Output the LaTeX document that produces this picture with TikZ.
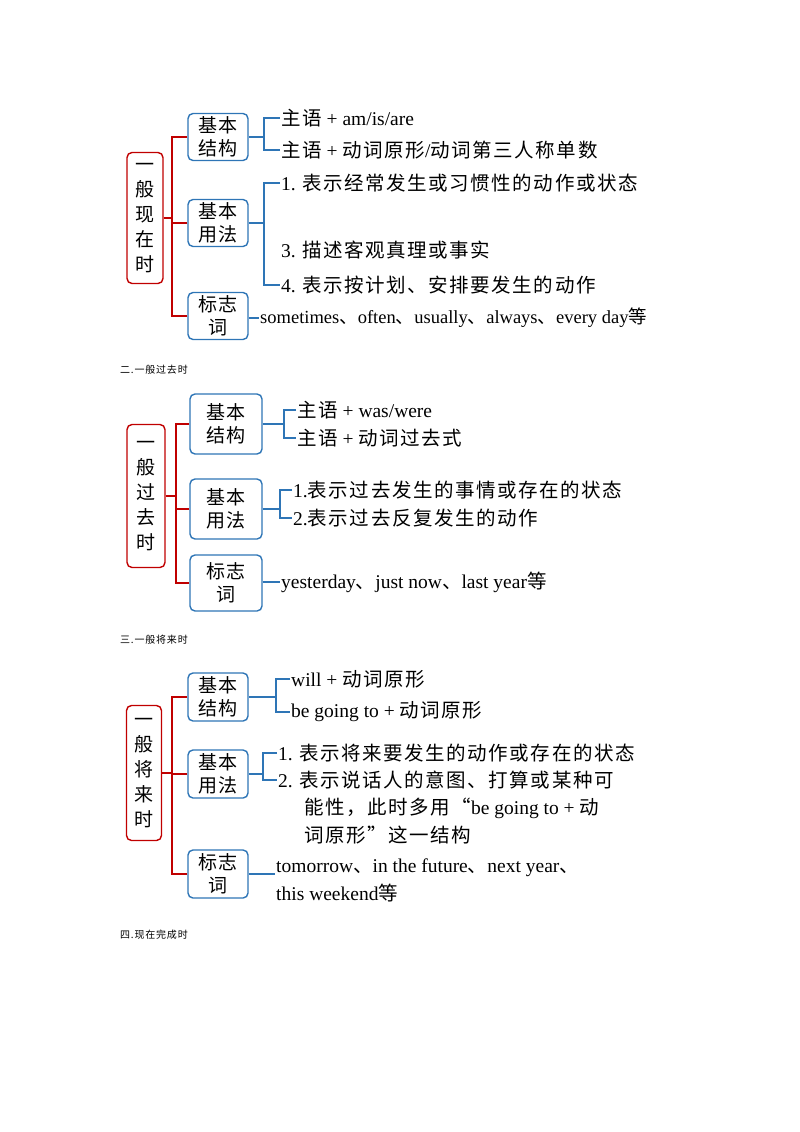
\documentclass[tikz,border=0pt]{standalone}
\usepackage{fontspec}
\setmainfont{Liberation Serif}
\newfontfamily\cjk{Noto Sans CJK SC}[LetterSpace=8]
\newcommand\zh[1]{{\cjk #1}}
\definecolor{rootred}{RGB}{192,0,0}
\definecolor{boxblue}{RGB}{46,117,182}
\begin{document}
\begin{tikzpicture}[x=1pt,y=-1pt,
    root/.style = {draw=rootred, line width=1.4pt, rounded corners=5pt, align=center, inner sep=2pt, font=\fontsize{19}{25}\selectfont\cjk},
     sub/.style = {draw=boxblue, line width=1.4pt, rounded corners=5pt, align=center, inner sep=3pt, font=\fontsize{19}{23}\selectfont\cjk},
    item/.style = {anchor=west, inner sep=1pt, font=\fontsize{19.5}{22}\selectfont, align=left},
      rd/.style = {draw=rootred, line width=1.2pt},
      br/.style = {draw=boxblue, line width=1.2pt},
     sec/.style = {anchor=west, inner sep=0pt, font=\fontsize{10}{12}\selectfont\cjk}
                    ]
\useasboundingbox (0,0) rectangle (800,1132);

% section 1
\node[root, minimum width=36pt, minimum height=131pt] (r1) at (145,218) {一\\般\\现\\在\\时};
\node[sub, minimum width=60pt, minimum height=47pt] (a1) at (218,137) {基本\\结构};
\node[sub, minimum width=60pt, minimum height=47pt] (a2) at (218,223) {基本\\用法};
\node[sub, minimum width=60pt, minimum height=47pt] (a3) at (218,316) {标志\\词};
\coordinate (k1) at (172,218);
\draw[rd] (r1.east) -- (k1);
\draw[rd] (a1.west) -| (k1);
\draw[rd] (a2.west) -| (k1);
\draw[rd] (a3.west) -| (k1);

\node[item] (a1x) at (280,118) {\zh{主语} + am/is/are};
\node[item] (a1y) at (280,150) {\zh{主语} + \zh{动词原形}/\zh{动词第三人称单数}};
\draw[br] (a1x.west) -- ++(-16,0) |- (a1y.west);
\draw[br] (a1.east) -- ([xshift=-16pt]a1.east -| a1x.west);
\node[item] (a2x) at (280,183) {1. \zh{表示经常发生或习惯性的动作或状态}};
\node[item] (a2y) at (280,250) {3. \zh{描述客观真理或事实}};
\node[item] (a2z) at (280,285) {4. \zh{表示按计划、安排要发生的动作}};
\draw[br] (a2x.west) -- ++(-16,0) |- (a2z.west);
\draw[br] (a2.east) -- ([xshift=-16pt]a2.east -| a2x.west);
\node[item, font=\fontsize{18.5}{20}\selectfont] (a3x) at (259,318) {sometimes\zh{、}often\zh{、}usually\zh{、}always\zh{、}every day\zh{等}};
\draw[br] (a3.east |- a3x.west) -- (a3x.west);

\node[sec] (s2) at (120,370) {二.一般过去时};

% section 2
\node[root, minimum width=38pt, minimum height=143pt] (r2) at (146,496) {一\\般\\过\\去\\时};
\node[sub, minimum width=72pt, minimum height=60pt] (b1) at (226,424) {基本\\结构};
\node[sub, minimum width=72pt, minimum height=60pt] (b2) at (226,509) {基本\\用法};
\node[sub, minimum width=72pt, minimum height=56pt] (b3) at (226,583) {标志\\词};
\coordinate (k2) at (176,496);
\draw[rd] (r2.east) -- (k2);
\draw[rd] (b1.west) -| (k2);
\draw[rd] (b2.west) -| (k2);
\draw[rd] (b3.west) -| (k2);

\node[item] (b1x) at (296,410) {\zh{主语} + was/were};
\node[item] (b1y) at (296,438) {\zh{主语} + \zh{动词过去式}};
\draw[br] (b1x.west) -- ++(-12,0) |- (b1y.west);
\draw[br] (b1.east) -- ([xshift=-12pt]b1.east -| b1x.west);
\node[item] (b2x) at (292,490) {1.\zh{表示过去发生的事情或存在的状态}};
\node[item] (b2y) at (292,518) {2.\zh{表示过去反复发生的动作}};
\draw[br] (b2x.west) -- ++(-12,0) |- (b2y.west);
\draw[br] (b2.east) -- ([xshift=-12pt]b2.east -| b2x.west);
\node[item] (b3x) at (280,582) {yesterday\zh{、}just now\zh{、}last year\zh{等}};
\draw[br] (b3.east |- b3x.west) -- (b3x.west);

\node[sec] (s3) at (120,640) {三.一般将来时};

% section 3
\node[root, minimum width=35pt, minimum height=135pt] (r3) at (144,773) {一\\般\\将\\来\\时};
\node[sub, minimum width=60pt, minimum height=48pt] (c1) at (218,697) {基本\\结构};
\node[sub, minimum width=60pt, minimum height=48pt] (c2) at (218,774) {基本\\用法};
\node[sub, minimum width=60pt, minimum height=48pt] (c3) at (218,874) {标志\\词};
\coordinate (k3) at (172,773);
\draw[rd] (r3.east) -- (k3);
\draw[rd] (c1.west) -| (k3);
\draw[rd] (c2.west) -| (k3);
\draw[rd] (c3.west) -| (k3);

\node[item] (c1x) at (290,679) {will + \zh{动词原形}};
\node[item] (c1y) at (290,712) {be going to + \zh{动词原形}};
\draw[br] (c1x.west) -- ++(-14,0) |- (c1y.west);
\draw[br] (c1.east) -- ([xshift=-14pt]c1.east -| c1x.west);
\node[item] (c2x) at (277,753) {1. \zh{表示将来要发生的动作或存在的状态}};
\node[item] (c2y) at (277,780) {2. \zh{表示说话人的意图、打算或某种可}};
\node[item] (c2z) at (303,808) {\zh{能性，此时多用“}be going to + \zh{动}};
\node[item] (c2w) at (303,835) {\zh{词原形”这一结构}};
\draw[br] (c2x.west) -- ++(-14,0) |- (c2y.west);
\draw[br] (c2.east) -- ([xshift=-14pt]c2.east -| c2x.west);
\node[item] (c3x) at (275,868) {tomorrow\zh{、}in the future\zh{、}next year\zh{、}};
\node[item] (c3y) at (275,893) {this weekend\zh{等}};
\draw[br] (c3.east) -- (c3x.west |- c3.east);

\node[sec] (s4) at (120,935) {四.现在完成时};
\end{tikzpicture}
\end{document}
